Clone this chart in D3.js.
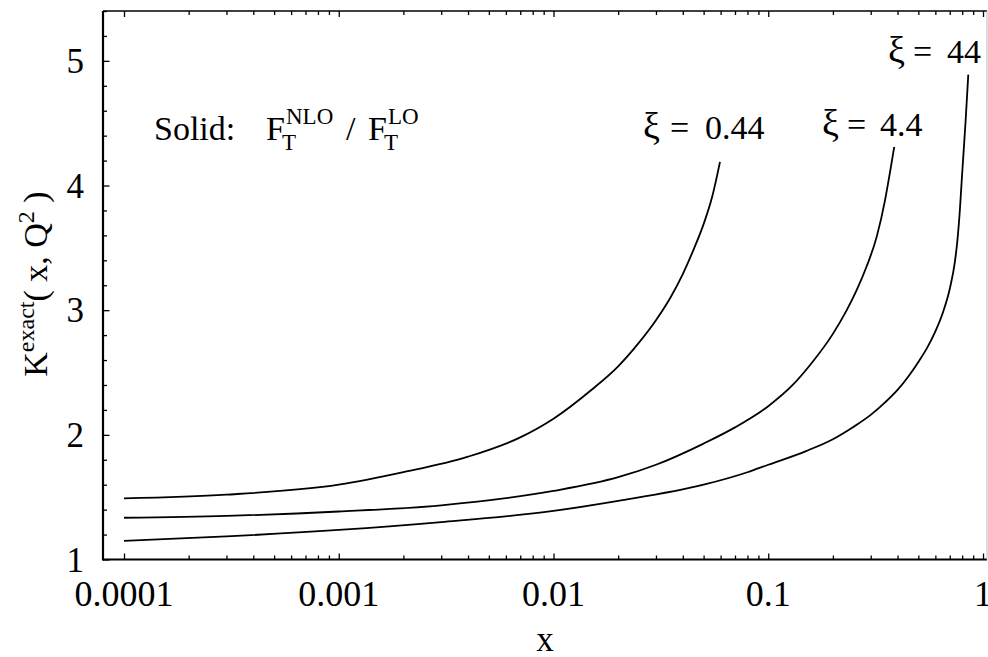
<!DOCTYPE html>
<html>
<head>
<meta charset="utf-8">
<script src="https://cdn.jsdelivr.net/npm/d3@7/dist/d3.min.js"></script>
<style>
  html, body { margin: 0; padding: 0; background: #fff; }
  svg text { font-family: "Liberation Serif", "DejaVu Serif", serif; fill: #000; }
</style>
</head>
<body>
<svg id="chart" width="988" height="657"></svg>
<script>
// ---- data ----
const xTickValues = [0.0001, 0.001, 0.01, 0.1, 1];
const xTickLabels = ["0.0001", "0.001", "0.01", "0.1", "1"];
const yTickValues = [1, 2, 3, 4, 5];
const yTickLabels = ["1", "2", "3", "4", "5"];

const seriesXi = ["0.44", "4.4", "44"];

// ξ = 0.44
const xi044X = [0.0001, 0.0003, 0.001, 0.002, 0.004, 0.007, 0.01, 0.015, 0.02, 0.025, 0.03, 0.035, 0.04, 0.045, 0.05, 0.055, 0.0596];
const xi044K = [1.49, 1.52, 1.60, 1.70, 1.825, 1.98, 2.13, 2.36, 2.55, 2.74, 2.92, 3.10, 3.29, 3.49, 3.69, 3.92, 4.19];

// ξ = 4.4
const xi44X = [0.0001, 0.0003, 0.001, 0.003, 0.01, 0.02, 0.03, 0.05, 0.07, 0.1, 0.13, 0.16, 0.2, 0.232, 0.258, 0.287, 0.32, 0.35, 0.37, 0.386];
const xi44K = [1.335, 1.35, 1.385, 1.435, 1.55, 1.66, 1.76, 1.93, 2.06, 2.23, 2.40, 2.58, 2.81, 3.0, 3.16, 3.35, 3.59, 3.885, 4.12, 4.31];

// ξ = 44
const xi440X = [0.0001, 0.0003, 0.001, 0.003, 0.01, 0.02, 0.05, 0.08, 0.1, 0.15, 0.2, 0.25, 0.3, 0.35, 0.4, 0.45, 0.5, 0.55, 0.6, 0.65, 0.7, 0.74, 0.76, 0.78, 0.8, 0.83, 0.854];
const xi440K = [1.15, 1.185, 1.237, 1.30, 1.39, 1.47, 1.60, 1.70, 1.76, 1.87, 1.965, 2.065, 2.16, 2.26, 2.36, 2.47, 2.585, 2.70, 2.83, 2.98, 3.17, 3.39, 3.56, 3.80, 4.10, 4.52, 4.89];

// ---- layout ----
const svg = d3.select("#chart");
const L = 103, R = 987, T = 11, B = 559.5;

const x = d3.scaleLog()
  .domain([Math.pow(10, -4.0978), Math.pow(10, 0.0186)])
  .range([L, R]);
const y = d3.scaleLinear().domain([1, 5.4]).range([B, T]);

// minor ticks
const xMinor = [];
for (let e = -4; e < 0; e++) for (let m = 2; m <= 9; m++) xMinor.push(m * Math.pow(10, e));
const yMinor = d3.range(1.2, 5.41, 0.2).filter(v => Math.abs(v - Math.round(v)) > 0.01);

// bottom axis (ticks inward)
const gB = svg.append("g").attr("transform", `translate(0,${B})`);
gB.call(d3.axisBottom(x).tickValues(xTickValues).tickSize(-6).tickFormat(""));
gB.append("g").call(d3.axisBottom(x).tickValues(xMinor).tickSize(-4).tickFormat(""));
// top axis
const gT = svg.append("g").attr("transform", `translate(0,${T})`);
gT.call(d3.axisTop(x).tickValues(xTickValues).tickSize(-6).tickFormat(""));
gT.append("g").call(d3.axisTop(x).tickValues(xMinor).tickSize(-4).tickFormat(""));
// left axis
const gL = svg.append("g").attr("transform", `translate(${L},0)`);
gL.call(d3.axisLeft(y).tickValues(yTickValues).tickSize(-6.5).tickFormat(""));
gL.append("g").call(d3.axisLeft(y).tickValues(yMinor).tickSize(-4).tickFormat(""));

svg.selectAll(".domain").remove();
svg.selectAll(".tick line").attr("stroke", "#000").attr("stroke-width", 1.3);

// frame
svg.append("line").attr("x1", L).attr("x2", R).attr("y1", B).attr("y2", B).attr("stroke", "#000").attr("stroke-width", 2.2);
svg.append("line").attr("x1", L).attr("x2", L).attr("y1", T).attr("y2", B + 1).attr("stroke", "#000").attr("stroke-width", 2.2);
svg.append("line").attr("x1", L).attr("x2", R).attr("y1", T).attr("y2", T).attr("stroke", "#000").attr("stroke-width", 1.6);
svg.append("line").attr("x1", R).attr("x2", R).attr("y1", T).attr("y2", B).attr("stroke", "#bbb").attr("stroke-width", 1);

// tick labels
svg.append("g").selectAll("text").data(xTickValues).join("text")
  .attr("x", d => x(d)).attr("y", 606)
  .attr("text-anchor", "middle").attr("font-size", 36)
  .text((d, i) => xTickLabels[i]);
svg.append("g").selectAll("text").data(yTickValues).join("text")
  .attr("x", 84).attr("y", d => y(d) + 12)
  .attr("text-anchor", "end").attr("font-size", 35)
  .text((d, i) => yTickLabels[i]);

// axis titles
svg.append("text").attr("x", 545).attr("y", 651).attr("text-anchor", "middle")
  .attr("font-size", 35).text("x");
const yl = svg.append("text").attr("transform", "translate(47,284) rotate(-90)")
  .attr("text-anchor", "middle").attr("font-size", 34);
yl.append("tspan").text("K");
yl.append("tspan").attr("font-size", 24).attr("dy", -13).text("exact");
yl.append("tspan").attr("dy", 13).text("( x, Q");
yl.append("tspan").attr("font-size", 24).attr("dy", -13).text("2");
yl.append("tspan").attr("dy", 13).text(" )");

// curves
const series = [
  { xi: seriesXi[0], xs: xi044X, ks: xi044K, lx: 643, ly: 139, off: [0, 27, 62] },
  { xi: seriesXi[1], xs: xi44X, ks: xi44K, lx: 822, ly: 136, off: [0, 25, 58] },
  { xi: seriesXi[2], xs: xi440X, ks: xi440K, lx: 888, ly: 63, off: [0, 25, 59] }
];
const line = d3.line().x(d => x(d[0])).y(d => y(d[1])).curve(d3.curveMonotoneX);
svg.append("g").selectAll("path").data(series).join("path")
  .attr("d", s => line(s.xs.map((v, i) => [v, s.ks[i]])))
  .attr("fill", "none").attr("stroke", "#000").attr("stroke-width", 1.8);

// curve labels: ξ = value
const lg = svg.append("g").attr("font-size", 34);
series.forEach(s => {
  lg.append("text").attr("x", s.lx + s.off[0]).attr("y", s.ly).attr("font-size", 38).text("ξ");
  lg.append("text").attr("x", s.lx + s.off[1]).attr("y", s.ly).text("=");
  lg.append("text").attr("x", s.lx + s.off[2]).attr("y", s.ly).text(s.xi);
});

// annotation
const ann = svg.append("g").attr("font-size", 34);
ann.append("text").attr("x", 154).attr("y", 140).text("Solid:");
ann.append("text").attr("x", 266).attr("y", 140).text("F");
ann.append("text").attr("x", 286).attr("y", 124).attr("font-size", 23).text("NLO");
ann.append("text").attr("x", 282).attr("y", 150).attr("font-size", 23).text("T");
ann.append("text").attr("x", 346).attr("y", 140).text("/");
ann.append("text").attr("x", 368).attr("y", 140).text("F");
ann.append("text").attr("x", 388).attr("y", 124).attr("font-size", 23).text("LO");
ann.append("text").attr("x", 384).attr("y", 150).attr("font-size", 23).text("T");
</script>
</body>
</html>
